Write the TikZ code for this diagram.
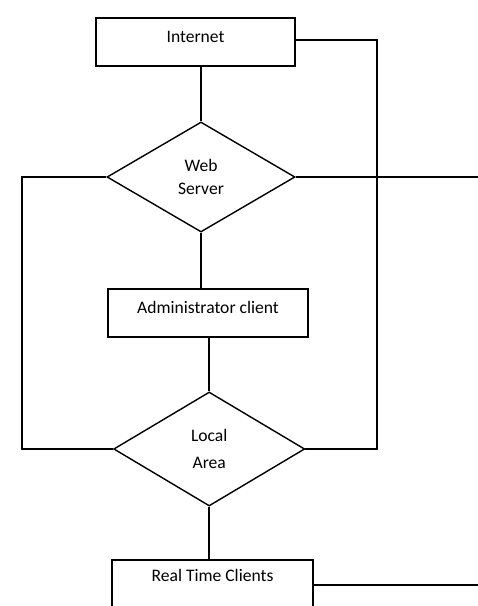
\documentclass[tikz,border=0pt]{standalone}
\usepackage{fontspec}
\setmainfont{Carlito}
\usetikzlibrary{shapes.geometric}
\tikzset{
  box/.style={draw,line width=1pt,minimum width=#1,minimum height=1.2cm,inner sep=0pt},
  dec/.style={draw,diamond,line width=1pt,inner sep=0pt,align=center},
  lbl/.style={font=\fontsize{12.5}{15}\selectfont}
}
\begin{document}
\begin{tikzpicture}[x=0.025cm,y=-0.025cm,line width=1pt]
\useasboundingbox (0,0) rectangle (478,606);
\node[box=4.975cm] (inet) at (195.5,42) {};
\node[lbl] (inettxt) at (195.5,37) {Internet};
\node[dec,minimum width=4.7cm,minimum height=2.75cm,lbl] (ws) at (201,177) {Web\\[1.3pt]Server};
\node[box=5cm] (admin) at (208,313) {};
\node[lbl] (admintxt) at (208,307) {Administrator client};
\node[dec,minimum width=4.775cm,minimum height=2.85cm,lbl] (la) at (209.2,449) {Local\\[4pt]Area};
\node[box=5.025cm] (rtc) at (212.5,584) {};
\node[lbl] (rtctxt) at (212.5,575) {Real Time Clients};
\coordinate (wsend) at (478,177);
\coordinate (rtcend) at (478,585);

\draw (ws.north |- inet.south) -- (ws.north);
\draw (ws.south) -- (ws.south |- admin.north);
\draw (la.north |- admin.south) -- (la.north);
\draw (la.south) -- (la.south |- rtc.north);
\draw (inet.east |- 0,40) -| (377,449) -- (la.east);
\draw (ws.west) -- (22,177) |- (la.west);
\draw (ws.east) -- (wsend);
\draw (rtc.east |- rtcend) -- (rtcend);
\end{tikzpicture}
\end{document}
